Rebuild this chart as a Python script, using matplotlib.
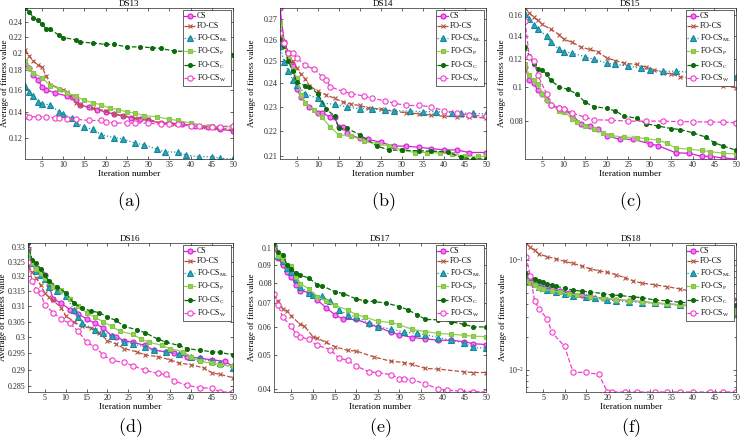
import numpy as np
import matplotlib
matplotlib.use("Agg")
import matplotlib.pyplot as plt
from matplotlib.ticker import FixedLocator, FuncFormatter, NullLocator, LogLocator

plt.rcParams['font.family'] = ['Liberation Serif', 'DejaVu Serif']
plt.rcParams['mathtext.fontset'] = 'custom'
plt.rcParams['mathtext.rm'] = 'Liberation Serif'
plt.rcParams['mathtext.it'] = 'Liberation Serif:italic'

# ---------------- DS13 ----------------
ds13_cs_it = [1, 2, 3, 4, 5, 6, 8, 11, 12, 13, 14, 16, 18, 20, 22, 24, 26, 28, 30, 33, 35, 38, 41, 44, 47, 50]
ds13_cs = [0.187, 0.182, 0.175, 0.170, 0.163, 0.160, 0.157, 0.154, 0.153, 0.150, 0.146, 0.144, 0.142, 0.140,
           0.138, 0.137, 0.135, 0.134, 0.133, 0.131, 0.131, 0.130, 0.129, 0.128, 0.126, 0.125]
ds13_fo_it = [1, 2, 3, 4, 5, 6, 7, 10, 11, 13, 14, 17, 20, 22, 24, 27, 30, 33, 36, 40, 43, 46, 50]
ds13_fo = [0.203, 0.196, 0.190, 0.186, 0.183, 0.174, 0.165, 0.160, 0.158, 0.148, 0.146, 0.143, 0.141, 0.138,
           0.137, 0.135, 0.134, 0.131, 0.130, 0.129, 0.128, 0.127, 0.126]
ds13_ml_it = [1, 2, 3, 4, 5, 7, 9, 10, 12, 13, 15, 17, 19, 22, 24, 27, 29, 32, 34, 37, 39, 42, 45, 47, 50]
ds13_ml = [0.164, 0.158, 0.154, 0.149, 0.147, 0.146, 0.140, 0.138, 0.135, 0.131, 0.128, 0.126, 0.122, 0.120,
           0.119, 0.116, 0.115, 0.112, 0.110, 0.110, 0.108, 0.107, 0.107, 0.106, 0.1055]
ds13_p_it = [1, 2, 3, 5, 7, 9, 11, 13, 15, 17, 19, 21, 23, 25, 27, 29, 32, 35, 37, 40, 42, 45, 47, 50]
ds13_p = [0.190, 0.182, 0.177, 0.172, 0.164, 0.161, 0.157, 0.154, 0.150, 0.148, 0.146, 0.143, 0.142, 0.140,
          0.139, 0.137, 0.136, 0.134, 0.133, 0.131, 0.129, 0.129, 0.128, 0.128]
ds13_c_it = [1, 2, 3, 4, 5, 6, 7, 9, 10, 13, 14, 17, 20, 22, 25, 28, 31, 33, 36, 45, 50]
ds13_c = [0.2615, 0.256, 0.246, 0.243, 0.237, 0.231, 0.230, 0.222, 0.219, 0.216, 0.213, 0.212, 0.210, 0.210,
          0.207, 0.207, 0.206, 0.205, 0.202, 0.200, 0.197]
ds13_w_it = [1, 2, 4, 6, 8, 9, 11, 13, 16, 19, 20, 22, 25, 27, 30, 33, 35, 37, 40, 42, 45, 47, 50]
ds13_w = [0.137, 0.136, 0.136, 0.136, 0.135, 0.135, 0.134, 0.134, 0.133, 0.133, 0.132, 0.131, 0.131, 0.131,
          0.131, 0.130, 0.130, 0.130, 0.129, 0.129, 0.128, 0.128, 0.129]

# ---------------- DS14 ----------------
ds14_cs_it = [1, 2, 3, 4, 5, 6, 8, 10, 11, 13, 14, 15, 16, 17, 20, 22, 25, 28, 31, 34, 37, 40, 43, 46, 50]
ds14_cs = [0.2755, 0.259, 0.2535, 0.2478, 0.2375, 0.234, 0.230, 0.2275, 0.2275, 0.2255, 0.2255, 0.2215, 0.2214,
           0.219, 0.217, 0.2166, 0.2155, 0.214, 0.214, 0.2135, 0.213, 0.2125, 0.2125, 0.2115, 0.2115]
ds14_fo_it = [1, 2, 3, 4, 5, 6, 7, 8, 10, 12, 14, 16, 18, 20, 22, 25, 28, 31, 34, 37, 40, 43, 46, 50]
ds14_fo = [0.268, 0.259, 0.254, 0.250, 0.247, 0.244, 0.242, 0.239, 0.2365, 0.235, 0.2335, 0.232, 0.231, 0.2305,
           0.2295, 0.229, 0.228, 0.2275, 0.227, 0.2265, 0.226, 0.2258, 0.2256, 0.2253]
ds14_ml_it = [1, 2, 3, 4, 5, 7, 10, 11, 14, 17, 20, 23, 26, 28, 32, 35, 38, 42, 44, 47, 50]
ds14_ml = [0.257, 0.2495, 0.2455, 0.2415, 0.2395, 0.2355, 0.2335, 0.2315, 0.231, 0.2298, 0.2292, 0.229, 0.2287,
           0.2283, 0.2282, 0.2279, 0.2279, 0.2275, 0.2273, 0.2272, 0.227]
ds14_p_it = [1, 2, 3, 4, 5, 6, 7, 9, 11, 13, 15, 18, 21, 24, 27, 30, 33, 36, 39, 42, 45, 48, 50]
ds14_p = [0.2675, 0.258, 0.252, 0.246, 0.2425, 0.235, 0.2315, 0.2285, 0.2255, 0.2215, 0.2185, 0.218, 0.216,
          0.215, 0.214, 0.2125, 0.2115, 0.2115, 0.2113, 0.211, 0.210, 0.210, 0.210]
ds14_c_it = [1, 2, 3, 4, 5, 7, 8, 10, 12, 14, 15, 17, 20, 24, 27, 30, 34, 37, 41, 44, 47, 50]
ds14_c = [0.2605, 0.257, 0.250, 0.2455, 0.2405, 0.239, 0.2385, 0.2355, 0.229, 0.226, 0.221, 0.221, 0.2185,
          0.214, 0.2125, 0.2123, 0.2122, 0.212, 0.2117, 0.2096, 0.209, 0.209]
ds14_w_it = [1, 2, 3, 4, 5, 7, 9, 11, 12, 13, 16, 18, 21, 23, 26, 28, 31, 34, 37, 40, 43, 46, 50]
ds14_w = [0.263, 0.2585, 0.2535, 0.2535, 0.2515, 0.248, 0.2465, 0.243, 0.2415, 0.2385, 0.2365, 0.2355, 0.2345,
          0.2335, 0.2325, 0.2315, 0.2305, 0.2305, 0.230, 0.2283, 0.2275, 0.2265, 0.226]

# ---------------- DS15 ----------------
ds15_cs_it = [1, 2, 3, 4, 5, 6, 7, 9, 10, 12, 14, 16, 18, 20, 23, 26, 30, 32, 36, 39, 42, 44, 47, 50]
ds15_cs = [0.114, 0.105, 0.1025, 0.098, 0.0958, 0.092, 0.089, 0.087, 0.0865, 0.083, 0.0787, 0.0775, 0.076,
           0.0727, 0.071, 0.071, 0.069, 0.068, 0.065, 0.0648, 0.0635, 0.0635, 0.0628, 0.0624]
ds15_fo_it = [1, 2, 3, 4, 5, 7, 9, 10, 12, 14, 16, 18, 20, 22, 24, 27, 29, 31, 33, 35, 37, 40, 43, 45, 47, 50]
ds15_fo = [0.168, 0.163, 0.158, 0.155, 0.151, 0.146, 0.141, 0.137, 0.134, 0.130, 0.128, 0.126, 0.121, 0.119,
           0.117, 0.116, 0.114, 0.112, 0.110, 0.109, 0.107, 0.106, 0.104, 0.103, 0.101, 0.0995]
ds15_ml_it = [1, 2, 3, 4, 6, 7, 9, 10, 12, 15, 17, 20, 22, 25, 28, 30, 33, 36, 40, 43, 46, 50]
ds15_ml = [0.162, 0.156, 0.150, 0.146, 0.140, 0.134, 0.128, 0.126, 0.125, 0.122, 0.120, 0.117, 0.116, 0.115,
           0.113, 0.112, 0.111, 0.111, 0.110, 0.110, 0.110, 0.107]
ds15_p_it = [1, 2, 3, 4, 5, 6, 7, 9, 10, 12, 13, 15, 17, 19, 21, 24, 27, 29, 32, 34, 36, 39, 42, 44, 47, 50]
ds15_p = [0.116, 0.108, 0.1045, 0.102, 0.0958, 0.092, 0.089, 0.0856, 0.0852, 0.0813, 0.0796, 0.0775, 0.076,
          0.0741, 0.0728, 0.072, 0.0718, 0.0713, 0.0706, 0.0691, 0.067, 0.0666, 0.066, 0.0655, 0.0648, 0.0645]
ds15_c_it = [1, 2, 3, 4, 5, 6, 7, 9, 11, 13, 15, 17, 20, 22, 24, 27, 29, 32, 35, 37, 40, 43, 45, 47, 50]
ds15_c = [0.130, 0.123, 0.116, 0.1125, 0.112, 0.109, 0.1045, 0.100, 0.0985, 0.0956, 0.0905, 0.088, 0.087,
          0.0855, 0.0827, 0.0815, 0.0787, 0.0774, 0.0762, 0.0757, 0.0741, 0.072, 0.0694, 0.068, 0.0661]
ds15_w_it = [1, 2, 3, 4, 6, 7, 9, 10, 12, 15, 17, 21, 25, 29, 33, 37, 40, 44, 47, 50]
ds15_w = [0.154, 0.122, 0.119, 0.108, 0.0957, 0.089, 0.0872, 0.0865, 0.0843, 0.082, 0.0807, 0.0805, 0.080,
          0.080, 0.080, 0.0797, 0.0797, 0.0795, 0.0795, 0.0791]

# ---------------- DS16 ----------------
ds16_cs_it = [1, 2, 3, 4, 5, 6, 7, 9, 11, 12, 13, 15, 17, 19, 21, 22, 24, 26, 29, 31, 34, 36, 39, 42, 45, 48, 50]
ds16_cs = [0.3295, 0.325, 0.323, 0.3215, 0.3205, 0.317, 0.3125, 0.311, 0.309, 0.3085, 0.3075, 0.306, 0.3045,
           0.303, 0.3005, 0.3003, 0.299, 0.2985, 0.2975, 0.296, 0.2955, 0.295, 0.294, 0.2935, 0.293, 0.2925, 0.291]
ds16_fo_it = [1, 2, 3, 4, 5, 6, 7, 9, 10, 12, 14, 16, 17, 18, 20, 22, 24, 27, 29, 32, 35, 37, 40, 43, 45, 47, 50]
ds16_fo = [0.3235, 0.3215, 0.3195, 0.317, 0.3145, 0.313, 0.312, 0.3095, 0.307, 0.305, 0.3035, 0.303, 0.3025,
           0.3015, 0.299, 0.298, 0.2965, 0.2955, 0.2945, 0.294, 0.293, 0.292, 0.2915, 0.2905, 0.289, 0.2885, 0.2875]
ds16_ml_it = [1, 2, 3, 4, 5, 6, 8, 10, 12, 13, 14, 17, 19, 21, 24, 26, 29, 31, 34, 37, 40, 42, 45, 47, 50]
ds16_ml = [0.3275, 0.3245, 0.322, 0.3205, 0.319, 0.3165, 0.315, 0.3135, 0.309, 0.3065, 0.3045, 0.3025, 0.3015,
           0.3005, 0.2985, 0.298, 0.297, 0.296, 0.2955, 0.2948, 0.294, 0.2935, 0.2925, 0.292, 0.2905]
ds16_p_it = [1, 2, 3, 4, 5, 6, 7, 9, 11, 13, 15, 17, 19, 21, 23, 26, 28, 30, 33, 35, 38, 40, 42, 45, 47, 50]
ds16_p = [0.3285, 0.3245, 0.3225, 0.321, 0.3195, 0.318, 0.3165, 0.3155, 0.3125, 0.310, 0.308, 0.3065, 0.305,
          0.3035, 0.302, 0.301, 0.2995, 0.2985, 0.2975, 0.2965, 0.2955, 0.294, 0.2925, 0.292, 0.2915, 0.291]
ds16_c_it = [1, 2, 3, 4, 5, 6, 8, 10, 12, 14, 16, 18, 20, 22, 24, 27, 29, 32, 34, 37, 39, 42, 45, 47, 50]
ds16_c = [0.3315, 0.3255, 0.3245, 0.3225, 0.3205, 0.3185, 0.3165, 0.3145, 0.311, 0.3095, 0.3085, 0.308, 0.3065,
          0.3055, 0.3035, 0.3025, 0.3015, 0.2995, 0.2985, 0.2975, 0.2965, 0.296, 0.2955, 0.2953, 0.2945]
ds16_w_it = [1, 2, 3, 4, 5, 7, 9, 11, 13, 15, 17, 19, 21, 24, 26, 29, 32, 34, 36, 39, 42, 45, 47, 50]
ds16_w = [0.325, 0.3185, 0.3155, 0.3145, 0.3105, 0.308, 0.3058, 0.3045, 0.302, 0.2985, 0.297, 0.2945, 0.2928,
          0.2922, 0.2912, 0.2898, 0.2888, 0.2885, 0.2865, 0.2852, 0.2845, 0.2843, 0.2832, 0.2832]

# ---------------- DS17 ----------------
ds17_cs_it = [1, 2, 3, 4, 5, 6, 7, 9, 11, 13, 15, 17, 20, 23, 25, 28, 30, 33, 36, 39, 42, 45, 47, 50]
ds17_cs = [0.101, 0.094, 0.0895, 0.086, 0.083, 0.079, 0.076, 0.075, 0.0715, 0.068, 0.065, 0.063, 0.063, 0.061,
           0.060, 0.058, 0.057, 0.056, 0.0555, 0.055, 0.055, 0.0545, 0.0538, 0.0535]
ds17_fo_it = [1, 2, 3, 4, 5, 7, 8, 10, 11, 13, 15, 18, 20, 24, 28, 31, 33, 36, 39, 45, 47, 50]
ds17_fo = [0.0741, 0.071, 0.0676, 0.0666, 0.0645, 0.061, 0.0604, 0.0563, 0.0557, 0.0543, 0.0528, 0.0515,
           0.0513, 0.0494, 0.048, 0.0476, 0.047, 0.0458, 0.0456, 0.0448, 0.0446, 0.0446]
ds17_ml_it = [1, 2, 3, 4, 5, 6, 7, 9, 10, 12, 14, 16, 18, 20, 23, 25, 28, 31, 34, 36, 39, 42, 45, 47, 50]
ds17_ml = [0.1035, 0.095, 0.092, 0.088, 0.0855, 0.082, 0.078, 0.075, 0.074, 0.0732, 0.071, 0.067, 0.065, 0.064,
           0.0615, 0.060, 0.0592, 0.058, 0.0575, 0.057, 0.056, 0.055, 0.054, 0.0525, 0.0522]
ds17_p_it = [1, 2, 3, 4, 5, 6, 7, 9, 11, 13, 15, 18, 20, 22, 25, 28, 30, 33, 36, 39, 42, 45, 47, 50]
ds17_p = [0.1025, 0.095, 0.093, 0.090, 0.089, 0.083, 0.0795, 0.077, 0.073, 0.071, 0.069, 0.067, 0.065, 0.064,
          0.0622, 0.0618, 0.0608, 0.059, 0.0582, 0.0575, 0.0572, 0.0568, 0.0565, 0.0563]
ds17_c_it = [1, 2, 3, 4, 5, 6, 7, 9, 11, 12, 15, 17, 20, 22, 24, 27, 30, 32, 34, 36, 39, 42, 45, 47, 50]
ds17_c = [0.1035, 0.0975, 0.096, 0.090, 0.0875, 0.085, 0.084, 0.0825, 0.079, 0.0785, 0.0755, 0.0745, 0.072,
          0.071, 0.0708, 0.070, 0.0685, 0.067, 0.065, 0.063, 0.0628, 0.062, 0.061, 0.060, 0.060]
ds17_w_it = [1, 2, 3, 5, 6, 7, 9, 11, 14, 16, 18, 20, 23, 25, 28, 30, 31, 33, 36, 39, 41, 44, 47, 50]
ds17_w = [0.0741, 0.0691, 0.0638, 0.0604, 0.0573, 0.0563, 0.0553, 0.0532, 0.0518, 0.049, 0.0483, 0.0465, 0.0448,
          0.0446, 0.044, 0.0429, 0.0428, 0.0426, 0.0414, 0.0401, 0.0398, 0.0395, 0.0394, 0.0393]

# ---------------- DS18 ----------------
ds18_cs_it = [1, 2, 3, 4, 5, 6, 7, 9, 11, 14, 16, 19, 22, 25, 28, 31, 34, 37, 40, 43, 46, 50]
ds18_cs = [0.071, 0.069, 0.064, 0.061, 0.058, 0.056, 0.054, 0.0525, 0.0505, 0.048, 0.0466, 0.0448, 0.0436,
           0.0427, 0.0418, 0.0407, 0.0399, 0.039, 0.0382, 0.0375, 0.037, 0.036]
ds18_fo_it = [1, 2, 3, 4, 6, 8, 10, 12, 14, 16, 18, 20, 22, 24, 26, 28, 31, 34, 37, 40, 43, 46, 50]
ds18_fo = [0.1425, 0.130, 0.122, 0.113, 0.107, 0.102, 0.097, 0.093, 0.088, 0.083, 0.0795, 0.077, 0.0735, 0.069,
           0.0645, 0.0615, 0.0595, 0.057, 0.0545, 0.051, 0.048, 0.046, 0.044]
ds18_ml_it = [1, 2, 3, 4, 5, 6, 8, 10, 12, 15, 17, 20, 22, 25, 28, 31, 34, 37, 40, 43, 46, 50]
ds18_ml = [0.066, 0.063, 0.060, 0.057, 0.055, 0.053, 0.051, 0.049, 0.047, 0.046, 0.045, 0.0435, 0.0425, 0.0415,
           0.041, 0.0402, 0.0395, 0.0388, 0.0378, 0.0365, 0.035, 0.0325]
ds18_p_it = [1, 2, 3, 4, 5, 7, 9, 11, 13, 16, 19, 22, 25, 28, 31, 34, 37, 40, 44, 47, 50]
ds18_p = [0.064, 0.0615, 0.059, 0.056, 0.054, 0.0525, 0.051, 0.049, 0.048, 0.046, 0.0448, 0.0435, 0.0425,
          0.0415, 0.0405, 0.0398, 0.039, 0.038, 0.0365, 0.035, 0.0335]
ds18_c_it = [1, 2, 3, 4, 5, 6, 7, 8, 10, 12, 14, 16, 19, 21, 23, 26, 28, 31, 34, 37, 40, 44, 47, 50]
ds18_c = [0.075, 0.071, 0.067, 0.065, 0.0625, 0.0605, 0.059, 0.0575, 0.0555, 0.053, 0.052, 0.051, 0.0495, 0.048,
          0.0475, 0.046, 0.0455, 0.0432, 0.0425, 0.0412, 0.0405, 0.0398, 0.0392, 0.0392]
ds18_w_it = [1, 2, 3, 4, 6, 7, 10, 12, 15, 18, 20, 21, 24, 27, 31, 34, 37, 40, 44, 47, 50]
ds18_w = [0.107, 0.072, 0.0427, 0.036, 0.029, 0.022, 0.0164, 0.0095, 0.0095, 0.0091, 0.0063, 0.0063, 0.0063,
          0.0063, 0.0063, 0.0063, 0.0063, 0.0063, 0.0063, 0.0063, 0.0063]

labels = ['CS', 'FO-CS', r'FO-CS$_{\rm ML}$', r'FO-CS$_{\rm P}$', r'FO-CS$_{\rm C}$', r'FO-CS$_{\rm W}$']

# line style, marker, colour, marker face, marker size
styles = [
    dict(ls='-', marker='o', color='#D61ED6', mfc='#F27CF2', mec='#D61ED6', ms=3.6),
    dict(ls='--', marker='x', color='#B5523F', mfc='#B5523F', mec='#B5523F', ms=3.0),
    dict(ls=':', marker='^', color='#1D95AC', mfc='#2BA5BC', mec='#17869B', ms=3.8),
    dict(ls='-', marker='s', color='#93D150', mfc='#93D150', mec='#86C445', ms=3.2),
    dict(ls='--', marker='o', color='#0B6B0B', mfc='#0B6B0B', mec='#0B6B0B', ms=2.8),
    dict(ls='--', marker='o', color='#F23CCB', mfc='white', mec='#F23CCB', ms=3.8),
]

W, H = 740, 441
# axes boxes in pixels: left, top, right, bottom ; ylabel x in pixels ; caption y in pixels
panels = [
    ('DS13', [(ds13_cs_it, ds13_cs), (ds13_fo_it, ds13_fo), (ds13_ml_it, ds13_ml),
              (ds13_p_it, ds13_p), (ds13_c_it, ds13_c), (ds13_w_it, ds13_w)],
     [0.12, 0.14, 0.16, 0.18, 0.2, 0.22, 0.24], (25, 8, 233, 159), 5, 202, 'a'),
    ('DS14', [(ds14_cs_it, ds14_cs), (ds14_fo_it, ds14_fo), (ds14_ml_it, ds14_ml),
              (ds14_p_it, ds14_p), (ds14_c_it, ds14_c), (ds14_w_it, ds14_w)],
     [0.21, 0.22, 0.23, 0.24, 0.25, 0.26, 0.27], (280, 8, 486, 159), 252, 202, 'b'),
    ('DS15', [(ds15_cs_it, ds15_cs), (ds15_fo_it, ds15_fo), (ds15_ml_it, ds15_ml),
              (ds15_p_it, ds15_p), (ds15_c_it, ds15_c), (ds15_w_it, ds15_w)],
     [0.08, 0.1, 0.12, 0.14, 0.16], (525, 8, 736, 159), 502, 202, 'c'),
    ('DS16', [(ds16_cs_it, ds16_cs), (ds16_fo_it, ds16_fo), (ds16_ml_it, ds16_ml),
              (ds16_p_it, ds16_p), (ds16_c_it, ds16_c), (ds16_w_it, ds16_w)],
     [0.285, 0.29, 0.295, 0.3, 0.305, 0.31, 0.315, 0.32, 0.325, 0.33], (28, 243, 233, 392), 3.5, 428, 'd'),
    ('DS17', [(ds17_cs_it, ds17_cs), (ds17_fo_it, ds17_fo), (ds17_ml_it, ds17_ml),
              (ds17_p_it, ds17_p), (ds17_c_it, ds17_c), (ds17_w_it, ds17_w)],
     [0.04, 0.05, 0.06, 0.07, 0.08, 0.09, 0.1], (274, 243, 486, 392), 252, 428, 'e'),
    ('DS18', [(ds18_cs_it, ds18_cs), (ds18_fo_it, ds18_fo), (ds18_ml_it, ds18_ml),
              (ds18_p_it, ds18_p), (ds18_c_it, ds18_c), (ds18_w_it, ds18_w)],
     None, (526, 243, 736, 392), 503, 428, 'f'),
]

fig = plt.figure(figsize=(W / 100, H / 100), dpi=100)

for title, series, yticks, box, ylab_x, cap_y, cap in panels:
    l, t, r, b = box
    ax = fig.add_axes([l / W, 1 - b / H, (r - l) / W, (b - t) / H])
    ax.set_yscale('log')
    lo, hi = 1e9, 0
    for (it, vals), st, lab in zip(series, styles, labels):
        ax.plot(it, vals, linestyle=st['ls'], marker=st['marker'], color=st['color'],
                markerfacecolor=st['mfc'], markeredgecolor=st['mec'], markersize=st['ms'],
                markeredgewidth=0.8, linewidth=0.9, label=lab)
        lo = min(lo, min(vals))
        hi = max(hi, max(vals))
    ax.set_xlim(1, 50)
    ax.set_ylim(lo, hi)
    ax.set_xticks(range(5, 51, 5))
    if yticks is not None:
        ax.yaxis.set_major_locator(FixedLocator(yticks))
        ax.yaxis.set_major_formatter(FuncFormatter(lambda v, p: '%g' % v))
        ax.yaxis.set_minor_locator(NullLocator())
    else:
        ax.yaxis.set_major_locator(LogLocator(base=10))
        ax.yaxis.set_minor_locator(LogLocator(base=10, subs=np.arange(2, 10)))
    ax.tick_params(which='both', direction='in', top=True, right=True, labelsize=5.8,
                   width=0.5, pad=1.5, colors='#262626')
    ax.tick_params(which='major', length=2.5)
    ax.tick_params(which='minor', length=1.3)
    for s in ax.spines.values():
        s.set_linewidth(0.5)
        s.set_color('#262626')
    ax.set_title(title, fontsize=6.5, pad=1.5)
    ax.set_xlabel('Iteration number', fontsize=6.7, labelpad=0.5)
    ax.set_ylabel('Average of fitness value', fontsize=6.5)
    ax.yaxis.set_label_coords((ylab_x - l) / (r - l), 0.5)
    ax.yaxis.label.set_va('center')
    leg = ax.legend(loc='upper right', fontsize=5.6, frameon=True, fancybox=False, framealpha=1,
                    edgecolor='#262626', borderpad=0.25, labelspacing=0.28, handlelength=1.4,
                    handletextpad=0.2, borderaxespad=0.3)
    leg.get_frame().set_linewidth(0.5)
    fig.text((l + r) / 2 / W, 1 - cap_y / H, r'$(\mathrm{%s})$' % cap, fontsize=13,
             ha='center', va='center', math_fontfamily='cm')

fig.savefig('out.png', dpi=100)
